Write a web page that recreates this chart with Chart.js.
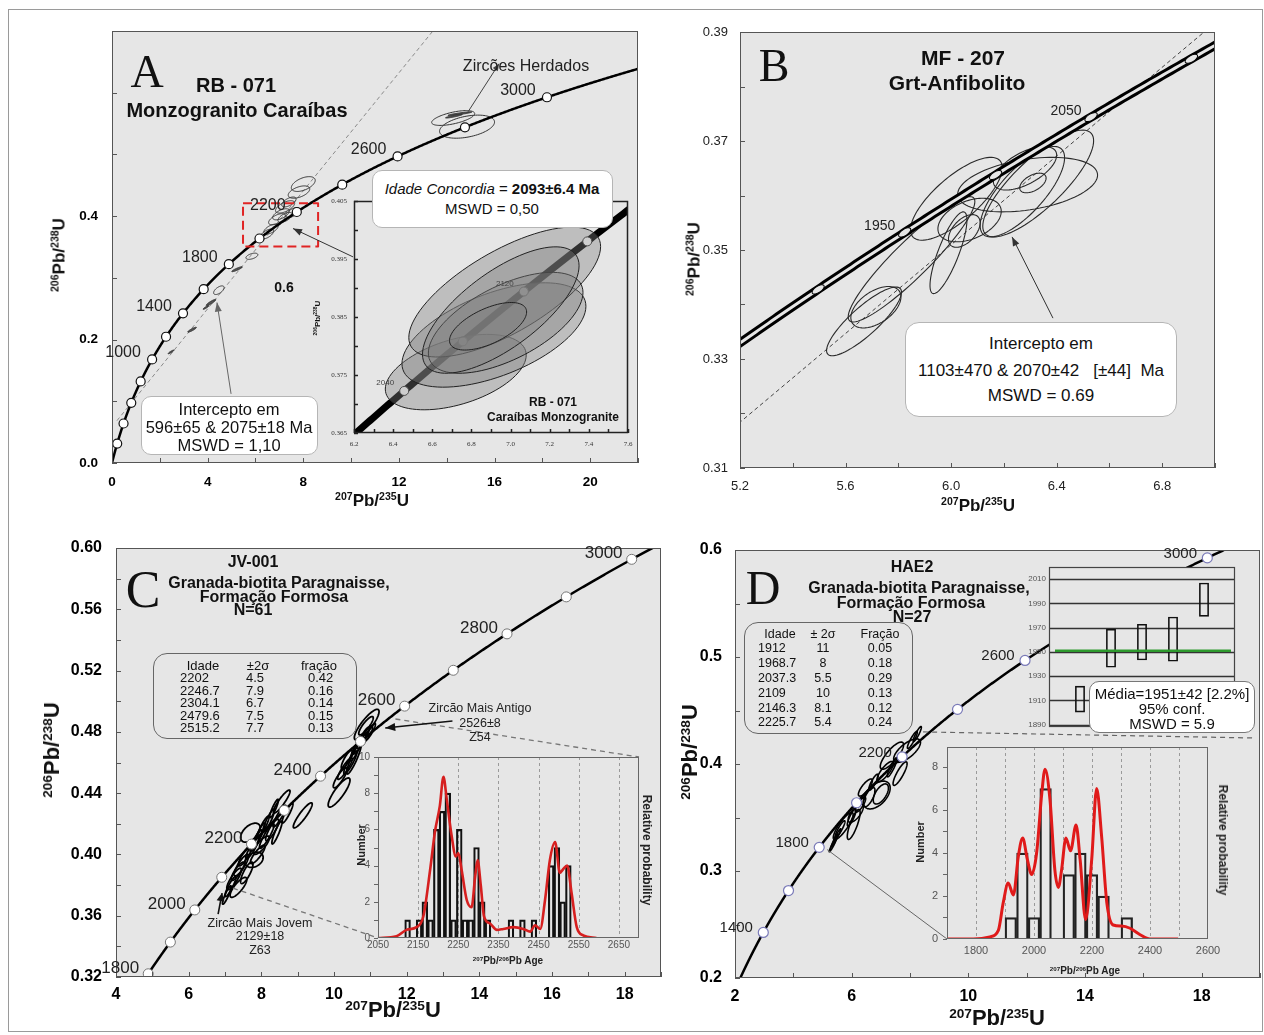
<!DOCTYPE html>
<html lang="pt">
<head>
<meta charset="utf-8">
<title>Diagramas Concórdia U-Pb</title>
<script src="https://cdn.jsdelivr.net/npm/chart.js@4.4.1/dist/chart.umd.min.js"></script>
<style>
html,body{margin:0;padding:0;background:#fff;}
body{width:1264px;height:1035px;position:relative;overflow:hidden;font-family:"Liberation Sans",Arial,Helvetica,sans-serif;color:#111;}
canvas.layer{position:absolute;left:0;top:0;width:1264px;height:1035px;pointer-events:none;}
.t{position:absolute;white-space:pre;transform:translate(-50%,-50%);line-height:1;}
.tl{position:absolute;white-space:pre;transform:translate(0,-50%);line-height:1;}
.b{font-weight:bold;}
.rot{transform:translate(-50%,-50%) rotate(-90deg);}
.rotcw{transform:translate(-50%,-50%) rotate(90deg);}
.box{position:absolute;background:#fff;border:1px solid #b5b5b5;border-radius:10px;box-sizing:border-box;}
.tbl{position:absolute;border:1px solid #666;border-radius:14px;box-sizing:border-box;}
.serif{font-family:"Liberation Serif","Times New Roman",serif;}
sup{font-size:0.62em;vertical-align:baseline;position:relative;top:-0.55em;}
#frame{position:absolute;left:8px;top:9px;width:1255px;height:1023px;border:1px solid #9a9a9a;box-sizing:border-box;}
</style>
</head>
<body>
<div id="frame"></div>
<canvas class="layer" id="cA" width="1264" height="1035"></canvas>
<canvas class="layer" id="cAi" width="1264" height="1035"></canvas>
<canvas class="layer" id="cB" width="1264" height="1035"></canvas>
<canvas class="layer" id="cC" width="1264" height="1035"></canvas>
<canvas class="layer" id="cCh" width="1264" height="1035"></canvas>
<canvas class="layer" id="cD" width="1264" height="1035"></canvas>
<canvas class="layer" id="cDh" width="1264" height="1035"></canvas>
<canvas class="layer" id="cDw" width="1264" height="1035"></canvas>

<!-- Panel A texts -->
<div class="t serif" style="left:147px;top:72px;font-size:46px">A</div>
<div class="t b" style="left:236px;top:85px;font-size:20px">RB - 071</div>
<div class="t b" style="left:237px;top:110px;font-size:20px">Monzogranito Caraíbas</div>
<div class="t" style="left:526px;top:66px;font-size:16px;color:#222">Zircões Herdados</div>
<div class="box" style="left:372px;top:170px;width:241px;height:58px"></div>
<div class="t" style="left:492px;top:188px;font-size:15px"><i>Idade Concordia</i> = <b>2093±6.4 Ma</b></div>
<div class="t" style="left:492px;top:208px;font-size:15px">MSWD = 0,50</div>
<div class="t b" style="left:284px;top:287px;font-size:14px">0.6</div>
<div class="box" style="left:141px;top:396px;width:177px;height:59px"></div>
<div class="t" style="left:229px;top:409px;font-size:16.5px">Intercepto em</div>
<div class="t" style="left:229px;top:427px;font-size:16.5px">596±65 &amp; 2075±18 Ma</div>
<div class="t" style="left:229px;top:445px;font-size:16.5px">MSWD = 1,10</div>
<div class="t b" style="left:553px;top:402px;font-size:12px">RB - 071</div>
<div class="t b" style="left:553px;top:417px;font-size:12px">Caraíbas Monzogranite</div>
<div class="t b rot" style="left:318px;top:318px;font-size:8px"><sup>206</sup>Pb/<sup>238</sup>U</div>
<div class="t b" style="left:372px;top:500px;font-size:17px"><sup>207</sup>Pb/<sup>235</sup>U</div>
<div class="t b rot" style="left:59px;top:255px;font-size:17px"><sup>206</sup>Pb/<sup>238</sup>U</div>

<!-- Panel B texts -->
<div class="t serif" style="left:774px;top:66px;font-size:46px">B</div>
<div class="t b" style="left:963px;top:57px;font-size:21px">MF - 207</div>
<div class="t b" style="left:957px;top:82px;font-size:21px">Grt-Anfibolito</div>
<div class="box" style="left:905px;top:322px;width:272px;height:95px;border-radius:14px"></div>
<div class="t" style="left:1041px;top:343px;font-size:17px">Intercepto em</div>
<div class="t" style="left:1041px;top:370px;font-size:17px">1103±470 &amp; 2070±42   [±44]  Ma</div>
<div class="t" style="left:1041px;top:395px;font-size:17px">MSWD = 0.69</div>
<div class="t b" style="left:978px;top:505px;font-size:17px"><sup>207</sup>Pb/<sup>235</sup>U</div>
<div class="t b rot" style="left:694px;top:259px;font-size:17px"><sup>206</sup>Pb/<sup>238</sup>U</div>

<!-- Panel C texts -->
<div class="t serif" style="left:143px;top:590px;font-size:52px">C</div>
<div class="t b" style="left:253px;top:562px;font-size:16px">JV-001</div>
<div class="t b" style="left:279px;top:583px;font-size:16px">Granada-biotita Paragnaisse,</div>
<div class="t b" style="left:274px;top:597px;font-size:16px">Formação Formosa</div>
<div class="t b" style="left:253px;top:610px;font-size:16px">N=61</div>
<div class="tbl" style="left:153px;top:653px;width:204px;height:86px"></div>
<div class="t" style="left:203px;top:665px;font-size:13px">Idade</div>
<div class="t" style="left:258px;top:665px;font-size:13px">±2σ</div>
<div class="t" style="left:319px;top:665px;font-size:13px">fração</div>
<div class="tl" style="left:180px;top:677px;font-size:13px">2202</div>
<div class="tl" style="left:180px;top:690px;font-size:13px">2246.7</div>
<div class="tl" style="left:180px;top:702px;font-size:13px">2304.1</div>
<div class="tl" style="left:180px;top:715px;font-size:13px">2479.6</div>
<div class="tl" style="left:180px;top:727px;font-size:13px">2515.2</div>
<div class="tl" style="left:246px;top:677px;font-size:13px">4.5</div>
<div class="tl" style="left:246px;top:690px;font-size:13px">7.9</div>
<div class="tl" style="left:246px;top:702px;font-size:13px">6.7</div>
<div class="tl" style="left:246px;top:715px;font-size:13px">7.5</div>
<div class="tl" style="left:246px;top:727px;font-size:13px">7.7</div>
<div class="tl" style="left:308px;top:677px;font-size:13px">0.42</div>
<div class="tl" style="left:308px;top:690px;font-size:13px">0.16</div>
<div class="tl" style="left:308px;top:702px;font-size:13px">0.14</div>
<div class="tl" style="left:308px;top:715px;font-size:13px">0.15</div>
<div class="tl" style="left:308px;top:727px;font-size:13px">0.13</div>
<div class="t" style="left:480px;top:708px;font-size:12.5px;color:#222">Zircão Mais Antigo</div>
<div class="t" style="left:480px;top:723px;font-size:12.5px;color:#222">2526±8</div>
<div class="t" style="left:480px;top:737px;font-size:12.5px;color:#222">Z54</div>
<div class="t" style="left:260px;top:923px;font-size:12.5px;color:#222">Zircão Mais Jovem</div>
<div class="t" style="left:260px;top:936px;font-size:12.5px;color:#222">2129±18</div>
<div class="t" style="left:260px;top:950px;font-size:12.5px;color:#222">Z63</div>
<div class="t b rot" style="left:361px;top:845px;font-size:11px;color:#222">Number</div>
<div class="t b rotcw" style="left:647px;top:850px;font-size:12px;color:#222">Relative probability</div>
<div class="t b" style="left:508px;top:961px;font-size:10px;color:#222"><sup>207</sup>Pb/<sup>206</sup>Pb Age</div>
<div class="t b" style="left:393px;top:1010px;font-size:22px"><sup>207</sup>Pb/<sup>235</sup>U</div>
<div class="t b rot" style="left:52px;top:750px;font-size:22px"><sup>206</sup>Pb/<sup>238</sup>U</div>

<!-- Panel D texts -->
<div class="t serif" style="left:763px;top:588px;font-size:48px">D</div>
<div class="t b" style="left:912px;top:567px;font-size:16px">HAE2</div>
<div class="t b" style="left:919px;top:588px;font-size:16px">Granada-biotita Paragnaisse,</div>
<div class="t b" style="left:911px;top:603px;font-size:16px">Formação Formosa</div>
<div class="t b" style="left:912px;top:617px;font-size:16px">N=27</div>
<div class="tbl" style="left:744px;top:622px;width:169px;height:112px"></div>
<div class="t" style="left:780px;top:634px;font-size:12.5px">Idade</div>
<div class="t" style="left:823px;top:634px;font-size:12.5px">± 2σ</div>
<div class="t" style="left:880px;top:634px;font-size:12.5px">Fração</div>
<div class="tl" style="left:758px;top:648px;font-size:12.5px">1912</div>
<div class="tl" style="left:758px;top:663px;font-size:12.5px">1968.7</div>
<div class="tl" style="left:758px;top:678px;font-size:12.5px">2037.3</div>
<div class="tl" style="left:758px;top:693px;font-size:12.5px">2109</div>
<div class="tl" style="left:758px;top:708px;font-size:12.5px">2146.3</div>
<div class="tl" style="left:758px;top:722px;font-size:12.5px">2225.7</div>
<div class="t" style="left:823px;top:648px;font-size:12.5px">11</div>
<div class="t" style="left:823px;top:663px;font-size:12.5px">8</div>
<div class="t" style="left:823px;top:678px;font-size:12.5px">5.5</div>
<div class="t" style="left:823px;top:693px;font-size:12.5px">10</div>
<div class="t" style="left:823px;top:708px;font-size:12.5px">8.1</div>
<div class="t" style="left:823px;top:722px;font-size:12.5px">5.4</div>
<div class="t" style="left:880px;top:648px;font-size:12.5px">0.05</div>
<div class="t" style="left:880px;top:663px;font-size:12.5px">0.18</div>
<div class="t" style="left:880px;top:678px;font-size:12.5px">0.29</div>
<div class="t" style="left:880px;top:693px;font-size:12.5px">0.13</div>
<div class="t" style="left:880px;top:708px;font-size:12.5px">0.12</div>
<div class="t" style="left:880px;top:722px;font-size:12.5px">0.24</div>
<div class="t b rot" style="left:920px;top:842px;font-size:11px;color:#222">Number</div>
<div class="t b rotcw" style="left:1223px;top:840px;font-size:12px;color:#222">Relative probability</div>
<div class="t b" style="left:1085px;top:971px;font-size:10px;color:#222"><sup>207</sup>Pb/<sup>206</sup>Pb Age</div>
<div class="t b" style="left:997px;top:1018px;font-size:22px"><sup>207</sup>Pb/<sup>235</sup>U</div>
<div class="t b rot" style="left:690px;top:752px;font-size:22px"><sup>206</sup>Pb/<sup>238</sup>U</div>
<div class="box" style="left:1089px;top:681px;width:166px;height:52px;border-color:#777"></div>
<div class="t" style="left:1172px;top:693px;font-size:15px">Média=1951±42 [2.2%]</div>
<div class="t" style="left:1172px;top:708px;font-size:15px">95% conf.</div>
<div class="t" style="left:1172px;top:723px;font-size:15px">MSWD = 5.9</div>

<script>
// ====================== DATA ======================
// decay constants (1/yr)
const L235 = 9.8485e-10, L238 = 1.55125e-10;

// ---- Panel A : RB-071 ----
const A_xTicks = [0, 4, 8, 12, 16, 20];
const A_yTicks = [0, 0.2, 0.4];
const A_markerAges = [200, 400, 600, 800, 1000, 1200, 1400, 1600, 1800, 2000, 2200, 2400, 2600, 2800, 3000];
const A_labelAges = [1000, 1400, 1800, 2200, 2600, 3000];
const A_interceptAges = [596, 2075];
const A_ellX   = [5.85, 5.23, 4.47, 4.14, 3.93, 3.35, 2.47, 8.00, 7.82, 7.24, 7.07, 6.90, 7.24, 6.65, 6.48, 7.57, 7.40, 14.85, 14.27, 14.55, 14.30];
const A_ellY   = [0.335, 0.314, 0.280, 0.260, 0.252, 0.216, 0.180, 0.452, 0.439, 0.415, 0.403, 0.395, 0.398, 0.379, 0.371, 0.406, 0.423, 0.545, 0.559, 0.566, 0.562];
const A_ellSX  = [0.25, 0.22, 0.22, 0.20, 0.12, 0.18, 0.12, 0.50, 0.45, 0.40, 0.35, 0.35, 0.30, 0.30, 0.28, 0.30, 0.30, 1.15, 0.90, 0.50, 0.35];
const A_ellSY  = [0.005, 0.004, 0.007, 0.005, 0.003, 0.004, 0.003, 0.012, 0.010, 0.010, 0.009, 0.009, 0.008, 0.008, 0.008, 0.008, 0.008, 0.0187, 0.012, 0.003, 0.003];
const A_ellRho = [0.5, 0.9, 0.6, 0.9, 0.9, 0.9, 0.9, 0.5, 0.5, 0.6, 0.6, 0.6, 0.6, 0.6, 0.6, 0.6, 0.6, 0.4, 0.6, 0.9, 0.9];
const A_ellFill = [0, 1, 0, 1, 1, 1, 1, 0, 0, 0, 0, 0, 0, 0, 0, 0, 0, 0, 0, 1, 1];
const A_zoomBox = [5.48, 8.62, 0.351, 0.421];
// inset of panel A
const A_insXTicks = [6.2, 6.4, 6.6, 6.8, 7.0, 7.2, 7.4, 7.6];
const A_insYTicks = [0.365, 0.375, 0.385, 0.395, 0.405];
const A_insMarkerAges = [2040, 2080, 2120, 2160];
const A_insLabelAges = [2040, 2120];
const A_insX   = [6.72, 6.915, 6.97, 6.975, 6.95, 6.885];
const A_insY   = [0.3755, 0.3819, 0.3893, 0.3840, 0.3862, 0.3834];
const A_insSX  = [0.36, 0.47, 0.49, 0.395, 0.40, 0.197];
const A_insSY  = [0.0065, 0.0090, 0.0112, 0.0087, 0.0109, 0.0041];
const A_insRho = [0.45, 0.55, 0.70, 0.60, 0.70, 0.60];

// ---- Panel B : MF-207 ----
const B_xTicks = [5.2, 5.6, 6.0, 6.4, 6.8];
const B_yTicks = [0.31, 0.33, 0.35, 0.37, 0.39];
const B_markerAges = [1900, 1950, 2000, 2050, 2100];
const B_labelAges = [1950, 2050];
const B_interceptAges = [1103, 2070];
const B_ellX   = [5.67, 5.715, 5.85, 6.02, 6.29, 6.27, 6.33, 6.31, 5.99, 6.05, 6.07, 6.28];
const B_ellY   = [0.3369, 0.3395, 0.3483, 0.3594, 0.3620, 0.3607, 0.3622, 0.3623, 0.3495, 0.3535, 0.3555, 0.3650];
const B_ellSX  = [0.142, 0.095, 0.24, 0.174, 0.265, 0.16, 0.21, 0.05, 0.07, 0.06, 0.12, 0.12];
const B_ellSY  = [0.0063, 0.0038, 0.0115, 0.0076, 0.0050, 0.0083, 0.0098, 0.0018, 0.0075, 0.0030, 0.0040, 0.0040];
const B_ellRho = [0.85, 0.5, 0.92, 0.75, 0.35, 0.75, 0.8, 0.5, 0.8, 0.5, 0.4, 0.6];

// ---- Panel C : JV-001 ----
const C_xTicks = [4, 6, 8, 10, 12, 14, 16, 18];
const C_yTicks = [0.32, 0.36, 0.40, 0.44, 0.48, 0.52, 0.56, 0.60];
const C_markerAges = [1800, 1900, 2000, 2100, 2200, 2300, 2400, 2500, 2600, 2700, 2800, 2900, 3000];
const C_labelAges = [1800, 2000, 2200, 2400, 2600, 2800, 3000];
const C_ellX   = [7.05, 7.15, 7.25, 7.37, 7.35, 7.45, 7.55, 7.60, 7.70, 7.75, 7.80, 7.85, 7.95, 8.00, 8.05, 8.15, 8.20, 8.30, 8.43, 8.50, 8.56, 8.72, 9.14, 8.35, 7.90,
                  10.14, 10.17, 10.30, 10.45, 10.55, 10.60, 10.70, 10.80, 10.90, 10.88, 10.90, 11.00, 10.35];
const C_ellY   = [0.3735, 0.3790, 0.3840, 0.3785, 0.3890, 0.3930, 0.3990, 0.3880, 0.4142, 0.4040, 0.3965, 0.4090, 0.4130, 0.4060, 0.4180, 0.4120, 0.4220, 0.4160, 0.4143, 0.4250, 0.4345, 0.4270, 0.4255, 0.4300, 0.4000,
                  0.4404, 0.4500, 0.4560, 0.4600, 0.4625, 0.4680, 0.4720, 0.4760, 0.4847, 0.4840, 0.4780, 0.4800, 0.4620];
const C_ellSX  = [0.12, 0.15, 0.20, 0.23, 0.18, 0.20, 0.18, 0.17, 0.27, 0.18, 0.25, 0.16, 0.15, 0.22, 0.16, 0.20, 0.16, 0.18, 0.14, 0.18, 0.23, 0.15, 0.26, 0.12, 0.20,
                  0.30, 0.19, 0.20, 0.18, 0.20, 0.16, 0.18, 0.17, 0.34, 0.20, 0.16, 0.14, 0.15];
const C_ellSY  = [0.0060, 0.0065, 0.0070, 0.0065, 0.0060, 0.0070, 0.0065, 0.0070, 0.0062, 0.0070, 0.0050, 0.0070, 0.0075, 0.0060, 0.0070, 0.0080, 0.0075, 0.0070, 0.0075, 0.0070, 0.0075, 0.0065, 0.0082, 0.0060, 0.0060,
                  0.0095, 0.0065, 0.0070, 0.0075, 0.0100, 0.0070, 0.0065, 0.0070, 0.0100, 0.0060, 0.0060, 0.0055, 0.0060];
const C_ellRho = [0.9, 0.9, 0.85, 0.8, 0.85, 0.85, 0.85, 0.8, 0.5, 0.9, 0.3, 0.9, 0.9, 0.8, 0.9, 0.9, 0.9, 0.85, 0.9, 0.9, 0.9, 0.9, 0.9, 0.9, 0.85,
                  0.85, 0.85, 0.9, 0.9, 0.9, 0.9, 0.9, 0.9, 0.85, 0.85, 0.85, 0.9, 0.85];
// histogram of panel C
const C_hXTicks = [2050, 2150, 2250, 2350, 2450, 2550, 2650];
const C_hYTicks = [0, 2, 4, 6, 8, 10];
const C_binCenters = [2123.7, 2138.0, 2152.3, 2166.6, 2180.9, 2195.2, 2209.5, 2223.8, 2238.1, 2252.4, 2266.7, 2281.0, 2295.3, 2309.6, 2323.9, 2338.2, 2352.5, 2366.8, 2381.1, 2395.4, 2409.7, 2424.0, 2438.3, 2452.6, 2466.9, 2481.2, 2495.5, 2509.8, 2524.1];
const C_binCounts  = [1, 0, 1, 2, 1, 6, 7, 8, 1, 6, 1, 1, 5, 2, 1, 0, 0, 0, 1, 0, 1, 0, 1, 0, 0, 4, 5, 2, 4];
const C_pdfAge = [2050, 2096, 2121, 2146, 2163, 2180, 2192, 2204, 2213, 2221, 2233, 2244, 2250, 2258, 2271, 2283, 2292, 2298, 2306, 2314, 2329, 2346, 2362, 2387, 2412, 2429, 2441, 2454, 2466, 2478, 2491, 2503, 2511, 2521, 2532, 2545, 2561, 2594];
const C_pdfVal = [0, 0.1, 0.45, 0.6, 1.2, 3.8, 5.9, 7.3, 8.9, 7.7, 5.7, 4.5, 4.7, 3.8, 2.1, 1.7, 3.4, 4.3, 2.9, 1.2, 0.8, 0.45, 0.5, 0.6, 0.5, 0.35, 0.7, 0.5, 2.1, 4.3, 5.3, 3.6, 3.8, 4.0, 2.5, 0.6, 0.15, 0];

// ---- Panel D : HAE2 ----
const D_xTicks = [2, 6, 10, 14, 18];
const D_yTicks = [0.2, 0.3, 0.4, 0.5, 0.6];
const D_markerAges = [1400, 1600, 1800, 2000, 2200, 2400, 2600, 2800, 3000];
const D_labelAges = [1400, 1800, 2200, 2600, 3000];
const D_ellX   = [5.35, 5.42, 5.50, 5.60, 5.71, 6.07, 6.14, 6.00, 6.30, 6.47, 6.60, 6.86, 7.00, 7.15, 7.39, 7.38, 7.66, 7.90, 8.08, 8.25, 6.75];
const D_ellY   = [0.3240, 0.3285, 0.3330, 0.3390, 0.3420, 0.3435, 0.3540, 0.3500, 0.3620, 0.3780, 0.3690, 0.3710, 0.3720, 0.3930, 0.3970, 0.4078, 0.3910, 0.4125, 0.4225, 0.4280, 0.3830];
const D_ellSX  = [0.12, 0.12, 0.13, 0.17, 0.34, 0.22, 0.26, 0.15, 0.18, 0.24, 0.20, 0.46, 0.26, 0.28, 0.17, 0.40, 0.24, 0.46, 0.17, 0.14, 0.16];
const D_ellSY  = [0.0060, 0.0060, 0.0065, 0.0080, 0.0127, 0.0140, 0.0085, 0.0080, 0.0070, 0.0080, 0.0090, 0.0130, 0.0094, 0.0094, 0.0090, 0.0127, 0.0110, 0.0110, 0.0080, 0.0070, 0.0075];
const D_ellRho = [0.95, 0.95, 0.95, 0.9, 0.85, 0.8, 0.7, 0.85, 0.8, 0.8, 0.7, 0.5, 0.6, 0.8, 0.9, 0.8, 0.85, 0.7, 0.9, 0.9, 0.85];
// histogram of panel D
const D_hXTicks = [1800, 1900, 2000, 2100, 2200, 2300, 2400, 2500, 2600];
const D_hYTicks = [0, 2, 4, 6, 8];
const D_binCenters = [1920, 1960, 2000, 2040, 2080, 2120, 2160, 2200, 2240, 2280, 2320];
const D_binCounts  = [1, 4, 1, 7, 0, 3, 4, 3, 2, 0, 1];
const D_pdfAge = [1700, 1791, 1848, 1877, 1894, 1911, 1929, 1946, 1961, 1977, 1992, 2009, 2027, 2038, 2055, 2072, 2084, 2095, 2110, 2126, 2145, 2159, 2178, 2199, 2216, 2233, 2251, 2273, 2302, 2331, 2366, 2400, 2497];
const D_pdfVal = [0, 0, 0.1, 0.4, 1.7, 2.6, 2.05, 3.85, 4.7, 3.7, 3.0, 4.0, 6.8, 7.9, 6.5, 3.2, 2.4, 3.2, 4.7, 4.1, 5.3, 3.7, 0.9, 3.7, 7.0, 4.8, 1.7, 0.65, 0.6, 0.5, 0.2, 0, 0];
// weighted mean inset of panel D
const D_wmYTicks = [1890, 1910, 1930, 1950, 1970, 1990, 2010];
const D_wmX  = [1, 2, 3, 4, 5];
const D_wmLo = [1900, 1937, 1943, 1942, 1979];
const D_wmHi = [1922, 1969, 1973, 1979, 2007];
const D_wmMean = 1951;

// ====================== HELPERS ======================
const W = 1264, H = 1035;
const SANS = '"Liberation Sans", Arial, Helvetica, sans-serif';
const SERIF = '"Liberation Serif", "Times New Roman", serif';
const BG = '#e6e6e6';
Chart.defaults.font.family = SANS;

function rng(a, b, s) { const r = []; for (let v = a; v <= b + s * 1e-6; v += s) r.push(+v.toFixed(6)); return r; }
function conc(tMa) { const t = tMa * 1e6; return [Math.expm1(L235 * t), Math.expm1(L238 * t)]; }
function px(c, X, Y) { return [c.scales.x.getPixelForValue(X), c.scales.y.getPixelForValue(Y)]; }

function axis(dir, a, size) {
  return {
    type: 'linear', min: a.min, max: a.max, offset: false,
    position: dir === 'x' ? 'bottom' : 'left',
    afterFit: s => { if (dir === 'x') s.height = size; else s.width = size; },
    afterBuildTicks: s => { s.ticks = a.ticks.map(v => ({ value: v })); },
    grid: { display: false, drawTicks: false },
    border: { display: false },
    ticks: {
      autoSkip: false, maxRotation: 0, minRotation: 0, padding: a.pad, color: a.color || '#000',
      font: { family: a.family || SANS, size: a.size, weight: a.weight || 'normal' },
      callback: a.fmt || (v => String(v))
    }
  };
}
function clipDo(c, fn) {
  const a = c.chartArea, g = c.ctx;
  g.save(); g.beginPath(); g.rect(a.left, a.top, a.right - a.left, a.bottom - a.top); g.clip(); fn(c, g); g.restore();
}
function frameTicks(c, o) {
  const a = c.chartArea, g = c.ctx, xs = c.scales.x, ys = c.scales.y;
  g.save(); g.strokeStyle = o.frame || '#555'; g.lineWidth = o.frameW || 1;
  const len = o.tickLen || 5, d = o.tickOut ? -1 : 1;
  g.beginPath();
  (o.xMarks || []).forEach(v => { const p = Math.round(xs.getPixelForValue(v)) + 0.5; g.moveTo(p, a.bottom); g.lineTo(p, a.bottom - d * len); });
  (o.yMarks || []).forEach(v => { const p = Math.round(ys.getPixelForValue(v)) + 0.5; g.moveTo(a.left, p); g.lineTo(a.left + d * len, p); });
  g.stroke();
  g.strokeRect(Math.round(a.left) + 0.5, Math.round(a.top) + 0.5, Math.round(a.right - a.left) - 1, Math.round(a.bottom - a.top) - 1);
  g.restore();
}
function panel(id, rect, o) {
  const [Lf, T, R, B] = rect; const yw = Math.min(100, Lf), xh = 40;
  return new Chart(document.getElementById(id), {
    type: o.type || 'scatter',
    data: { datasets: o.datasets || [] },
    options: {
      responsive: false, animation: false, events: [],
      layout: { padding: { left: Lf - yw, top: T, right: W - R, bottom: H - B - xh } },
      plugins: { legend: { display: false }, tooltip: { enabled: false } },
      scales: { x: axis('x', o.x, xh), y: axis('y', o.y, yw) }
    },
    plugins: [{
      id: 'pp_' + id,
      beforeDraw(c) { const a = c.chartArea, g = c.ctx; g.save(); g.fillStyle = o.bg || BG; g.fillRect(a.left, a.top, a.right - a.left, a.bottom - a.top); g.restore(); },
      beforeDatasetsDraw(c) { if (o.under) clipDo(c, o.under); },
      afterDatasetsDraw(c) { if (o.over) clipDo(c, o.over); },
      afterDraw(c) { frameTicks(c, o); }
    }]
  });
}
function drawEll(c, E, st) {
  const g = c.ctx;
  for (let i = 0; i < E.x.length; i++) {
    const r = E.rho[i], q = Math.sqrt(1 - r * r);
    g.beginPath();
    for (let k = 0; k <= 90; k++) {
      const t = k / 90 * 2 * Math.PI;
      const X = E.x[i] + E.sx[i] * Math.cos(t);
      const Y = E.y[i] + E.sy[i] * (r * Math.cos(t) + q * Math.sin(t));
      const [u, v] = px(c, X, Y); k ? g.lineTo(u, v) : g.moveTo(u, v);
    }
    g.closePath();
    const f = st.fill ? st.fill(i) : null;
    if (f) { g.fillStyle = f; g.fill(); }
    g.strokeStyle = st.stroke; g.lineWidth = st.lw; g.stroke();
  }
}
function drawConc(c, t0, t1, color, lw) {
  const g = c.ctx; g.beginPath();
  for (let t = t0; t <= t1; t += 2) { const [X, Y] = conc(t); const [u, v] = px(c, X, Y); t === t0 ? g.moveTo(u, v) : g.lineTo(u, v); }
  g.strokeStyle = color; g.lineWidth = lw; g.lineJoin = 'round'; g.stroke();
}
function drawMarkers(c, ages, r, fill, stroke, lw) {
  const g = c.ctx;
  ages.forEach(a => { const [X, Y] = conc(a); const [u, v] = px(c, X, Y); g.beginPath(); g.arc(u, v, r, 0, 2 * Math.PI); g.fillStyle = fill; g.fill(); g.strokeStyle = stroke; g.lineWidth = lw; g.stroke(); });
}
function drawDisc(c, ages, s0, s1, color, dash, lw) {
  const [x1, y1] = conc(ages[0]), [x2, y2] = conc(ages[1]);
  const P = s => px(c, x1 + (x2 - x1) * s, y1 + (y2 - y1) * s);
  const g = c.ctx, a = P(s0), b = P(s1);
  g.save(); g.setLineDash(dash); g.strokeStyle = color; g.lineWidth = lw; g.beginPath(); g.moveTo(a[0], a[1]); g.lineTo(b[0], b[1]); g.stroke(); g.restore();
}
function arrowPx(g, x1, y1, x2, y2, color, lw, hl, hw) {
  g.save(); g.strokeStyle = color; g.fillStyle = color; g.lineWidth = lw;
  g.beginPath(); g.moveTo(x1, y1); g.lineTo(x2, y2); g.stroke();
  const an = Math.atan2(y2 - y1, x2 - x1);
  g.beginPath(); g.moveTo(x2, y2);
  g.lineTo(x2 - hl * Math.cos(an) + hw * Math.sin(an), y2 - hl * Math.sin(an) - hw * Math.cos(an));
  g.lineTo(x2 - hl * Math.cos(an) - hw * Math.sin(an), y2 - hl * Math.sin(an) + hw * Math.cos(an));
  g.closePath(); g.fill(); g.restore();
}
function arrowData(c, p, q, color, lw, hl, hw) { const a = px(c, p[0], p[1]), b = px(c, q[0], q[1]); arrowPx(c.ctx, a[0], a[1], b[0], b[1], color, lw, hl || 9, hw || 3.5); }
function lineTo(c, p, target, color, lw, dash) {
  const g = c.ctx, a = px(c, p[0], p[1]);
  g.save(); g.setLineDash(dash || []); g.strokeStyle = color; g.lineWidth = lw; g.beginPath(); g.moveTo(a[0], a[1]); g.lineTo(target[0], target[1]); g.stroke(); g.restore();
}
function addText(x, y, txt, style) {
  const d = document.createElement('div'); d.className = 't'; d.style.cssText = `left:${x}px;top:${y}px;` + style; d.textContent = txt; document.body.appendChild(d);
}
function ageLabels(c, ages, dx, dy, style) {
  ages.forEach(a => { const [X, Y] = conc(a); const [u, v] = px(c, X, Y); addText(u + dx, v + dy, String(a), style); });
}

// ====================== PANEL A ======================
const rectA = [112, 31, 638, 463], rectAi = [354, 201, 628, 433];
const chA = panel('cA', rectA, {
  x: { min: 0, max: 22, ticks: A_xTicks, pad: 11, size: 13.5, weight: 'bold' },
  y: { min: 0, max: 0.7, ticks: A_yTicks, pad: 14, size: 13.5, weight: 'bold', fmt: v => v.toFixed(1) },
  xMarks: rng(0, 22, 2), yMarks: rng(0, 0.7, 0.1), frame: '#555',
  over(c, g) {
    drawDisc(c, A_interceptAges, -0.1, 3, '#8a8a8a', [4, 3], 1);
    drawEll(c, { x: A_ellX, y: A_ellY, sx: A_ellSX, sy: A_ellSY, rho: A_ellRho }, { stroke: '#333', lw: 1, fill: i => A_ellFill[i] ? '#555' : null });
    drawConc(c, 1, 4200, '#000', 2.5);
    drawMarkers(c, A_markerAges, 4.5, '#fff', '#111', 1.2);
    const p = px(c, A_zoomBox[0], A_zoomBox[3]), q = px(c, A_zoomBox[1], A_zoomBox[2]);
    g.save(); g.setLineDash([9, 5]); g.strokeStyle = '#e02424'; g.lineWidth = 2; g.strokeRect(p[0], p[1], q[0] - p[0], q[1] - p[1]); g.restore();
    arrowData(c, [4.98, 0.112], [4.39, 0.26], '#666', 1);
    arrowData(c, [10.08, 0.334], [7.57, 0.380], '#333', 1);
    arrowData(c, [14.89, 0.569], [16.19, 0.647], '#444', 1, 7, 3);
  }
});
ageLabels(chA, A_labelAges, -29, -7, 'font-size:16px;color:#222');

const chAi = panel('cAi', rectAi, {
  x: { min: 6.2, max: 7.6, ticks: A_insXTicks, pad: 7, size: 7, family: SERIF, color: '#333', fmt: v => v.toFixed(1) },
  y: { min: 0.365, max: 0.405, ticks: A_insYTicks, pad: 7, size: 7, family: SERIF, color: '#333', fmt: v => v.toFixed(3) },
  xMarks: rng(6.2, 7.6, 0.1), yMarks: rng(0.365, 0.405, 0.005), frame: '#222', frameW: 1.5, tickLen: 4,
  over(c, g) {
    drawConc(c, 1900, 2300, '#000', 7);
    drawMarkers(c, A_insMarkerAges, 4.5, '#fff', '#333', 1);
    drawEll(c, { x: A_insX, y: A_insY, sx: A_insSX, sy: A_insSY, rho: A_insRho }, { stroke: '#222', lw: 1, fill: () => 'rgba(125,125,125,0.38)' });
  }
});
ageLabels(chAi, A_insLabelAges, -19, -8, 'font-size:8px;color:#444');

// ====================== PANEL B ======================
const rectB = [740, 32, 1215, 468];
const chB = panel('cB', rectB, {
  x: { min: 5.2, max: 7.0, ticks: B_xTicks, pad: 11, size: 13, color: '#222', fmt: v => v.toFixed(1) },
  y: { min: 0.31, max: 0.39, ticks: B_yTicks, pad: 12, size: 13, color: '#222', fmt: v => v.toFixed(2) },
  xMarks: rng(5.2, 7.0, 0.2), yMarks: rng(0.31, 0.39, 0.01), frame: '#555',
  over(c, g) {
    drawDisc(c, B_interceptAges, 0.5, 1.3, '#444', [4, 3], 1);
    drawEll(c, { x: B_ellX, y: B_ellY, sx: B_ellSX, sy: B_ellSY, rho: B_ellRho }, { stroke: '#2a2a2a', lw: 1.1 });
    drawConc(c, 1800, 2200, '#000', 9);
    drawConc(c, 1800, 2200, BG, 3);
    B_markerAges.forEach(a => {
      const [X, Y] = conc(a), [X2, Y2] = conc(a + 2);
      const [u, v] = px(c, X, Y), [u2, v2] = px(c, X2, Y2);
      g.save(); g.translate(u, v); g.rotate(Math.atan2(v2 - v, u2 - u));
      g.beginPath(); g.ellipse(0, 0, 7, 3.2, 0, 0, 2 * Math.PI); g.fillStyle = BG; g.fill(); g.strokeStyle = '#000'; g.lineWidth = 1; g.stroke(); g.restore();
    });
    arrowData(c, [6.386, 0.3375], [6.231, 0.3524], '#333', 1);
  }
});
ageLabels(chB, B_labelAges, -25, -7, 'font-size:14px;color:#222');

// ====================== PANEL C ======================
const rectC = [116, 548, 661, 977], rectCh = [378, 757, 639, 938];
const chC = panel('cC', rectC, {
  x: { min: 4, max: 19, ticks: C_xTicks, pad: 8, size: 16, weight: 'bold' },
  y: { min: 0.32, max: 0.60, ticks: C_yTicks, pad: 14, size: 16, weight: 'bold', fmt: v => v.toFixed(2) },
  xMarks: rng(4, 19, 1), yMarks: rng(0.32, 0.60, 0.02), frame: '#555',
  over(c, g) {
    drawConc(c, 1, 4200, '#000', 2.5);
    drawEll(c, { x: C_ellX, y: C_ellY, sx: C_ellSX, sy: C_ellSY, rho: C_ellRho }, { stroke: '#000', lw: 1.8 });
    drawMarkers(c, C_markerAges, 5, '#fff', '#777', 1);
    lineTo(c, [11.69, 0.4884], [rectCh[2], rectCh[1]], '#777', 1.3, [5, 4]);
    lineTo(c, [7.22, 0.378], [rectCh[0], rectCh[3]], '#777', 1.3, [5, 4]);
    arrowData(c, [13.26, 0.4871], [11.41, 0.4825], '#111', 1.6, 10, 4);
    arrowData(c, [6.81, 0.3611], [6.92, 0.3748], '#111', 1.6, 8, 4);
  }
});
ageLabels(chC, C_labelAges, -28, -7, 'font-size:17px;color:#222');

const chCh = panel('cCh', rectCh, {
  type: 'bar',
  datasets: [
    { type: 'line', order: 0, data: C_pdfAge.map((a, i) => ({ x: a, y: C_pdfVal[i] })), borderColor: '#d61f1f', borderWidth: 2.6, pointRadius: 0, tension: 0.4, cubicInterpolationMode: 'monotone', fill: false },
    { type: 'bar', order: 1, data: C_binCenters.map((a, i) => ({ x: a, y: C_binCounts[i] })), backgroundColor: 'rgba(0,0,0,0)', borderColor: '#111', borderWidth: 1.5, barPercentage: 1, categoryPercentage: 1 }
  ],
  x: { min: 2050, max: 2700, ticks: C_hXTicks, pad: 1, size: 10, color: '#555' },
  y: { min: 0, max: 10, ticks: C_hYTicks, pad: 8, size: 10, color: '#555' },
  yMarks: rng(0, 10, 1), tickOut: true, tickLen: 4, frame: '#666',
  under(c, g) {
    g.save(); g.setLineDash([3, 3]); g.strokeStyle = '#9a9a9a'; g.lineWidth = 1; g.beginPath();
    C_hXTicks.forEach(v => { const u = Math.round(c.scales.x.getPixelForValue(v)) + 0.5; g.moveTo(u, c.chartArea.top); g.lineTo(u, c.chartArea.bottom); });
    g.stroke(); g.restore();
  }
});

// ====================== PANEL D ======================
const rectD = [735, 550, 1260, 978], rectDh = [947, 747, 1208, 939], rectDw = [1049, 567, 1235, 727];
const chD = panel('cD', rectD, {
  x: { min: 2, max: 20, ticks: D_xTicks, pad: 9, size: 16, weight: 'bold' },
  y: { min: 0.2, max: 0.6, ticks: D_yTicks, pad: 13, size: 16, weight: 'bold', fmt: v => v.toFixed(1) },
  xMarks: rng(2, 20, 2), yMarks: rng(0.2, 0.6, 0.05), frame: '#555',
  over(c, g) {
    drawConc(c, 1, 4200, '#000', 2.5);
    drawEll(c, { x: D_ellX, y: D_ellY, sx: D_ellSX, sy: D_ellSY, rho: D_ellRho }, { stroke: '#000', lw: 1.6 });
    drawMarkers(c, D_markerAges, 5, '#fff', '#7a7ab8', 1.2);
    lineTo(c, [5.16, 0.320], [rectDh[0], rectDh[3]], '#666', 1, []);
    lineTo(c, [8.45, 0.430], [1254, 738], '#666', 1.2, [5, 4]);
  }
});
ageLabels(chD, D_labelAges, -27, -6, 'font-size:15px;color:#222');

const chDh = panel('cDh', rectDh, {
  type: 'bar',
  datasets: [
    { type: 'line', order: 0, data: D_pdfAge.map((a, i) => ({ x: a, y: D_pdfVal[i] })), borderColor: '#e01a1a', borderWidth: 3, pointRadius: 0, tension: 0.4, cubicInterpolationMode: 'monotone', fill: false },
    { type: 'bar', order: 1, data: D_binCenters.map((a, i) => ({ x: a, y: D_binCounts[i] })), backgroundColor: 'rgba(0,0,0,0)', borderColor: '#222', borderWidth: 1.6, barPercentage: 1, categoryPercentage: 1 }
  ],
  x: { min: 1700, max: 2600, ticks: D_hXTicks, pad: 5, size: 11, color: '#555', fmt: v => (v % 200 === 0 ? String(v) : '') },
  y: { min: 0, max: 8.93, ticks: D_hYTicks, pad: 9, size: 11, color: '#555' },
  yMarks: rng(0, 8, 1), tickOut: true, tickLen: 4, frame: '#666',
  under(c, g) {
    g.save(); g.setLineDash([3, 3]); g.strokeStyle = '#9a9a9a'; g.lineWidth = 1; g.beginPath();
    D_hXTicks.forEach(v => { const u = Math.round(c.scales.x.getPixelForValue(v)) + 0.5; g.moveTo(u, c.chartArea.top); g.lineTo(u, c.chartArea.bottom); });
    g.stroke(); g.restore();
  }
});

const chDw = panel('cDw', rectDw, {
  type: 'bar',
  datasets: [
    { type: 'bar', data: D_wmX.map((x, i) => ({ x: x, y: [D_wmLo[i], D_wmHi[i]] })), backgroundColor: 'rgba(0,0,0,0)', borderColor: '#111', borderWidth: 1.6, borderSkipped: false, barPercentage: 0.32, categoryPercentage: 1 }
  ],
  x: { min: 0, max: 6, ticks: [], pad: 2, size: 8 },
  y: { min: 1888, max: 2020, ticks: D_wmYTicks, pad: 3, size: 8, color: '#555' },
  frame: '#444', frameW: 1.2,
  under(c, g) {
    g.save(); g.strokeStyle = '#333'; g.lineWidth = 1.4; g.beginPath();
    D_wmYTicks.forEach(v => { const y = Math.round(c.scales.y.getPixelForValue(v)) + 0.5; g.moveTo(c.chartArea.left, y); g.lineTo(c.chartArea.right, y); });
    g.stroke(); g.restore();
  },
  over(c, g) {
    const y = c.scales.y.getPixelForValue(D_wmMean);
    g.save(); g.strokeStyle = '#2e9a2e'; g.lineWidth = 2.5; g.beginPath(); g.moveTo(c.chartArea.left + 6, y); g.lineTo(c.chartArea.right - 4, y); g.stroke(); g.restore();
  }
});
</script>
</body>
</html>
